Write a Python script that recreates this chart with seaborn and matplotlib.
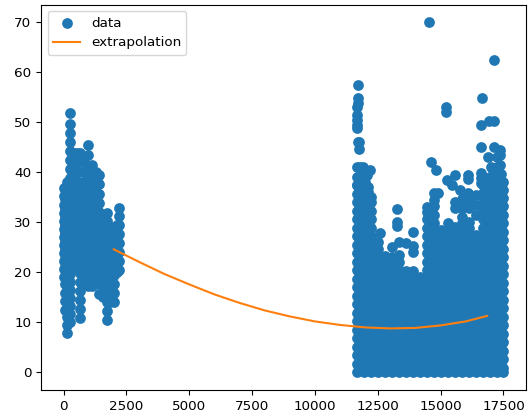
import matplotlib
matplotlib.use("Agg")
import matplotlib.pyplot as plt
import numpy as np
import pandas as pd
import seaborn as sns

# Left cloud: column x positions and the y values read in each column
left_x = [0, 60, 130, 260, 400, 530, 660, 810, 960, 1120, 1280, 1420, 1570, 1720, 1860, 1990, 2110, 2210]
l00 = [19.0, 20.6, 22.2, 23.8, 25.4, 27.0, 28.6, 30.2, 31.8, 33.4, 35.2, 36.9]
l0a = [12.5, 14.2, 15.9, 17.6, 19.3, 21.0, 22.7, 24.4, 26.1, 27.8, 29.5, 31.2, 32.9, 34.6, 36.5]
l01 = [7.8, 9.4, 11.0, 12.6, 14.2, 15.8, 17.4, 19.0, 20.6, 22.2, 23.8, 25.4, 27.0, 28.6, 30.2, 31.8, 33.4, 35.0, 36.6, 38.0]
l02 = [10.0, 11.6, 13.2, 14.8, 16.4, 18.0, 19.6, 21.2, 22.8, 24.4, 26.0, 27.6, 29.2, 30.8, 32.4, 34.0, 35.6, 37.2, 38.8, 40.6, 42.4, 44.2, 46.0, 47.8, 49.6, 51.8]
l03 = [21.0, 22.8, 24.6, 26.4, 28.2, 30.0, 31.8, 33.6, 35.4, 37.2, 39.0, 41.0, 43.8]
l04 = [21.8, 23.6, 25.4, 27.2, 29.0, 30.8, 32.6, 34.4, 36.2, 38.0, 40.0, 42.0, 43.8]
l05 = [10.9, 12.7, 14.5, 16.3, 18.1, 19.9, 21.7, 23.5, 25.3, 27.1, 28.9, 30.7, 32.5, 34.3, 36.1, 37.9, 40.0, 42.0, 43.8]
l06 = [18.0, 19.8, 21.6, 23.4, 25.2, 27.0, 28.8, 30.6, 32.4, 34.2, 36.0, 38.0, 40.0, 42.0, 43.0]
l07 = [17.2, 19.0, 20.8, 22.6, 24.4, 26.2, 28.0, 29.8, 31.6, 33.4, 35.2, 37.0, 39.0, 41.0, 43.5, 45.4]
l08 = [17.2, 19.0, 20.8, 22.6, 24.4, 26.2, 28.0, 29.8, 31.6, 33.4, 35.2, 37.2, 39.7, 41.5]
l09 = [18.0, 19.8, 21.6, 23.4, 25.2, 27.0, 28.8, 30.6, 32.4, 34.2, 36.0, 38.0, 40.0]
l10 = [15.6, 17.6, 19.4, 21.2, 23.0, 24.8, 26.6, 28.4, 30.2, 32.0, 33.8, 35.6, 37.6, 39.5]
l11 = [15.0, 17.0, 18.8, 20.6, 22.4, 24.2, 26.0, 27.8, 29.6, 31.0]
l12 = [10.5, 12.3, 14.1, 15.9, 17.7, 19.5, 21.3, 23.1, 24.9, 26.7, 28.5, 30.3, 31.8]
l13 = [14.0, 16.0, 17.8, 19.6, 21.4, 23.2, 25.0, 26.8, 28.0]
l14 = [14.0, 15.8, 17.6, 19.4, 21.2, 23.0, 24.8, 26.6, 28.4, 29.0]
l15 = [20.0, 21.8, 23.6, 25.4, 27.2, 29.0, 29.5]
l16 = [20.5, 22.3, 24.1, 25.9, 27.7, 29.5, 31.2, 32.8]
left_y = [l00, l0a, l01, l02, l03, l04, l05, l06, l07, l08, l09, l10, l11, l12, l13, l14, l15, l16]

# Right cloud: dense columns
right_x = [11655, 11935, 12215, 12495, 12775, 13055, 13335, 13615, 13895, 14175, 14455,
           14735, 15015, 15295, 15575, 15855, 16135, 16415, 16695, 16975, 17255, 17480]
r00 = [0.0, 1.7, 3.4, 5.1, 6.8, 8.5, 10.2, 11.9, 13.6, 15.3, 17.0, 18.7, 20.4, 22.1, 23.8, 25.5, 27.2, 28.9, 30.6, 32.3, 34.0, 35.7, 37.4, 39.0, 41.0]
r01 = [0.0, 0.9, 2.6, 4.3, 6.0, 7.7, 9.4, 11.1, 12.8, 14.5, 16.2, 17.9, 19.6, 21.3, 23.0, 24.7, 26.4, 28.1, 29.8, 31.5, 33.2, 34.9, 36.6, 38.0, 40.0]
r02 = [0.0, 1.7, 3.4, 5.1, 6.8, 8.5, 10.2, 11.9, 13.6, 15.3, 17.0, 18.7, 20.4, 22.1, 23.8, 25.5, 27.2, 28.9, 30.6, 32.3, 34.0, 35.0]
r03 = [0.0, 0.9, 2.6, 4.3, 6.0, 7.7, 9.4, 11.1, 12.8, 14.5, 16.2, 17.9, 19.6, 21.3, 23.0, 24.7, 26.0]
r04 = [0.0, 1.7, 3.4, 5.1, 6.8, 8.5, 10.2, 11.9, 13.6, 15.3, 17.0, 18.7, 20.4, 22.1, 23.3]
r05 = [0.0, 0.9, 2.6, 4.3, 6.0, 7.7, 9.4, 11.1, 12.8, 14.5, 16.2, 17.9, 19.6, 21.3, 23.0, 25.1]
r06 = [0.0, 1.7, 3.4, 5.1, 6.8, 8.5, 10.2, 11.9, 13.6, 15.3, 17.0, 18.7, 20.4, 22.1, 23.5, 26.0]
r07 = [0.0, 0.9, 2.6, 4.3, 6.0, 7.7, 9.4, 11.1, 12.8, 14.5, 16.2, 17.9, 19.6, 20.2, 25.8]
r08 = [0.0, 1.7, 3.4, 5.1, 6.8, 8.5, 10.2, 11.9, 13.6, 15.3, 17.0, 18.7, 20.2, 24.0, 25.2, 28.0]
r09 = [0.0, 0.9, 2.6, 4.3, 6.0, 7.7, 9.4, 11.1, 12.8, 14.5, 16.2, 17.9, 19.0]
r10 = [0.0, 1.7, 3.4, 5.1, 6.8, 8.5, 10.2, 11.9, 13.6, 15.3, 17.0, 18.7, 20.4, 22.1, 23.8, 25.5, 27.2, 28.9, 30.6, 32.0, 33.0]
r11 = [0.0, 0.9, 2.6, 4.3, 6.0, 7.7, 9.4, 11.1, 12.8, 14.5, 16.2, 17.9, 19.6, 21.3, 23.0, 24.7, 26.4, 28.1, 29.8, 31.5, 33.2, 34.5, 35.8]
r12 = [0.0, 1.7, 3.4, 5.1, 6.8, 8.5, 10.2, 11.9, 13.6, 15.3, 17.0, 18.7, 20.4, 22.1, 23.8, 25.5, 27.0, 28.5]
r13 = [0.0, 0.9, 2.6, 4.3, 6.0, 7.7, 9.4, 11.1, 12.8, 14.5, 16.2, 17.9, 19.6, 21.3, 23.0, 24.7, 26.4, 28.1, 29.8]
r14 = [0.0, 1.7, 3.4, 5.1, 6.8, 8.5, 10.2, 11.9, 13.6, 15.3, 17.0, 18.7, 20.4, 22.1, 23.8, 25.5, 27.2, 29.0, 32.8, 34.1]
r15 = [0.0, 0.9, 2.6, 4.3, 6.0, 7.7, 9.4, 11.1, 12.8, 14.5, 16.2, 17.9, 19.6, 21.3, 23.0, 24.7, 26.4, 28.1, 29.8, 31.0, 32.8, 34.6]
r16 = [0.0, 1.7, 3.4, 5.1, 6.8, 8.5, 10.2, 11.9, 13.6, 15.3, 17.0, 18.7, 20.4, 22.1, 23.8, 25.5, 27.2, 28.9, 30.1, 32.8, 34.4]
r17 = [0.0, 0.9, 2.6, 4.3, 6.0, 7.7, 9.4, 11.1, 12.8, 14.5, 16.2, 17.9, 19.6, 21.3, 23.0, 24.7, 26.4, 27.5, 31.5, 33.5, 35.5]
r18 = [0.0, 1.7, 3.4, 5.1, 6.8, 8.5, 10.2, 11.9, 13.6, 15.3, 17.0, 18.7, 20.4, 22.1, 23.8, 25.5, 27.2, 28.9, 30.6, 32.3, 34.0, 35.7, 37.4, 39.0]
r19 = [0.0, 0.9, 2.6, 4.3, 6.0, 7.7, 9.4, 11.1, 12.8, 14.5, 16.2, 17.9, 19.6, 21.3, 23.0, 24.7, 26.4, 28.1, 29.8, 31.5, 33.2, 34.9, 36.6, 38.2]
r20 = [0.0, 1.7, 3.4, 5.1, 6.8, 8.5, 10.2, 11.9, 13.6, 15.3, 17.0, 18.7, 20.4, 22.1, 23.8, 25.5, 27.2, 28.9, 30.6, 32.3, 34.0, 35.7, 37.5, 39.2]
r21 = [0.0, 0.9, 2.6, 4.3, 6.0, 7.7, 9.4, 11.1, 12.8, 14.5, 16.2, 17.9, 19.6, 21.3, 23.0, 24.7, 26.4, 28.1, 29.8, 31.5, 33.2, 34.9, 36.5, 38.0]
right_y = [r00, r01, r02, r03, r04, r05, r06, r07, r08, r09, r10, r11, r12, r13, r14, r15, r16, r17, r18, r19, r20, r21]

# Isolated points above the dense cloud
top_x = [11715, 11700, 11700, 11680, 11680, 11680, 11680, 11690, 11760, 11760, 11700, 11900, 12060, 12190, 11780, 11680, 12110,
         11900, 12090, 14550, 17125, 16630, 15215, 15215, 16940, 17125, 16590, 16590, 17125, 17360, 17360,
         16890, 17250, 17360, 14600, 14800, 15570, 16080, 16080, 15240, 15440, 15770, 16080, 14910,
         16590, 16590, 16590, 16990, 17400, 17180, 17400, 17000, 17300, 16700, 12590, 13250, 13250, 13250,
         17100, 17250, 17180, 16800, 16950, 12000, 12100, 11800]
top_y = [57.4, 54.8, 53.8, 53.0, 51.4, 50.4, 49.4, 48.8, 46.0, 44.6, 46.0, 41.0, 39.4, 40.5, 41.0, 37.5, 37.0,
         37.2, 34.8, 70.0, 62.5, 54.8, 53.0, 52.0, 50.3, 50.3, 49.5, 45.1, 45.1, 44.5, 43.4,
         43.1, 43.0, 41.5, 42.1, 40.5, 39.4, 39.4, 38.7, 38.4, 37.4, 36.4, 35.9, 35.8,
         39.8, 38.8, 37.8, 41.1, 39.6, 39.0, 36.5, 37.5, 36.0, 35.8, 27.9, 32.6, 30.0, 29.2,
         40.5, 41.0, 38.0, 35.5, 39.0, 38.0, 36.0, 39.0]

# Fitted curve
curve_x = [2000, 3000, 4000, 5000, 6000, 7000, 8000, 9000, 10000, 11000, 12000, 13000, 14000, 15000, 16000, 16850]
curve_y = [24.6, 22.1, 19.7, 17.6, 15.6, 13.9, 12.4, 11.2, 10.2, 9.5, 9.0, 8.8, 8.9, 9.4, 10.2, 11.3]

xs, ys = [], []
for cols_x, cols_y in ((left_x, left_y), (right_x, right_y)):
    for cx, vals in zip(cols_x, cols_y):
        xs.extend([cx] * len(vals))
        ys.extend(vals)
xs.extend(top_x)
ys.extend(top_y)
points = pd.DataFrame({"x": xs, "y": ys})
curve = pd.DataFrame({"x": curve_x, "y": curve_y})

plt.rcParams["font.size"] = 9.7
fig = plt.figure(figsize=(5.29, 4.16), dpi=100)
ax = fig.add_axes([41 / 529, (416 - 390) / 416, 484.5 / 529, 385.5 / 416])
sns.scatterplot(data=points, x="x", y="y", ax=ax, color="#1f77b4", s=60,
                linewidth=0, label="data", zorder=2)
sns.lineplot(data=curve, x="x", y="y", ax=ax, color="#ff7f0e", linewidth=1.5,
             label="extrapolation", estimator=None, zorder=3)
ax.set_xlim(-895, 18377)
ax.set_ylim(-3.5, 73.5)
ax.set_xticks(np.arange(0, 17501, 2500))
ax.set_yticks(np.arange(0, 71, 10))
ax.set_xlabel("")
ax.set_ylabel("")
ax.legend(loc="upper left")
fig.savefig("out.png", dpi=100)
